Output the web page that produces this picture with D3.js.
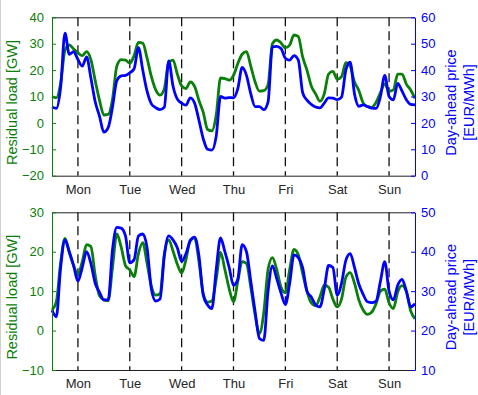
<!DOCTYPE html>
<html>
<head>
<meta charset="utf-8">
<script src="https://cdn.jsdelivr.net/npm/d3@7"></script>
<style>
body { margin: 0; background: #fff; }
svg { display: block; font-family: "Liberation Sans", Arial, sans-serif; }
</style>
</head>
<body>
<div id="chart"></div>
<script>
// hour of the week, every 2 hours, Mon 00:00 = 0
const hours = d3.range(0, 169, 2);
const dayNames = ['Mon', 'Tue', 'Wed', 'Thu', 'Fri', 'Sat', 'Sun'];
const dayHours = [12, 36, 60, 84, 108, 132, 156];

// upper panel
const topLoad = [10, 9.5, 15, 27.5, 29.5, 28, 26.5, 25.5, 27, 24, 16, 8.5, 3, 3.2, 9, 21.5, 24, 23.8, 22.6, 25.5,
  30.5, 30.2, 24.5, 17.5, 12.5, 10.5, 13, 23, 23.8, 18.5, 14, 13, 15.5, 13.8, 8.5, 4, -2.5, -3, 3, 17,
  16.8, 16.2, 18, 22.5, 26, 27, 21.5, 15.5, 12, 12.2, 14.5, 30, 31.4, 30.3, 28.4, 29.5, 33.3, 32.7, 25, 20,
  14, 11, 8.2, 11, 18.5, 19.5, 16.5, 17.5, 22.8, 21.5, 15.5, 12.3, 7.6, 6.2, 5.9, 7.8, 11.5, 14.8, 12, 12.5,
  18.5, 18.5, 14.7, 12.5, 9.3];
const topPrice = [26, 25.5, 33.5, 54, 46, 47, 44, 41.5, 45, 37, 28, 22.5, 16.5, 18.2, 26, 36, 37.8, 38, 39, 40.5,
  48.5, 40, 32, 27.2, 25.8, 25, 26, 43.5, 34, 29, 27.5, 26.7, 29.5, 27.5, 21, 14, 10, 9.7, 15, 30,
  29.4, 29.6, 29.5, 33, 41, 38, 31, 26.2, 26.2, 25, 28, 48.8, 49, 48.2, 44.5, 43.8, 45.5, 43.8, 31.5, 28.6,
  27, 26, 25.7, 27.5, 29.5, 29.4, 28.8, 29.8, 40, 43, 31, 26.3, 26.8, 26.2, 25.6, 25.5, 30, 38, 30, 28.7,
  35, 32, 28.8, 27, 26.8];

// lower panel
const bottomLoad = [5.2, 7.3, 17.3, 23.4, 19.8, 16.5, 14.2, 17.5, 21.8, 21.3, 14, 8.8, 7.8, 7.6, 16, 24.5, 21.2, 16.5, 15.4, 13.7,
  19.5, 22.3, 17, 11.2, 9, 9.4, 19.5, 23, 20.2, 16.8, 14.6, 18, 23, 23.5, 17.5, 9.3, 7.2, 7.5, 13, 19.8,
  15.5, 10.6, 7.3, 12.5, 17.5, 17, 11, 4, -0.8, 4.5, 15.5, 18.5, 15.5, 11, 9.6, 15.5, 20.6, 19.2, 14.5, 10,
  7, 6.3, 8.5, 11.5, 11, 8, 6, 8, 13.5, 14.7, 12, 7.8, 5.2, 4.1, 4.7, 6.8, 10, 10.5, 7, 5.6,
  9.8, 11.4, 9.9, 5, 3];
const bottomPrice = [25.2, 23.5, 36, 43, 40, 36.5, 32.5, 36, 40, 37, 32, 29.7, 27.8, 27.8, 40.5, 46.2, 46, 44, 37.2, 38,
  44, 44.5, 41, 30.5, 27.5, 28, 39, 44, 43, 41, 37.5, 39.5, 42.8, 43.7, 39, 29, 26.5, 25.6, 35.5, 43.5,
  40, 36, 31.5, 33, 41.8, 40, 32.5, 24.8, 18, 17.5, 30, 36.4, 33.2, 29.5, 26.6, 32, 39.2, 38.5, 36, 30,
  28.5, 26.5, 26, 30.5, 36.5, 36, 29, 32, 37.8, 39.5, 36, 31.8, 29.2, 27.3, 27.1, 27.5, 32.5, 37.5, 30, 27.8,
  31.5, 33, 30, 26, 26.8];

const loadTicksTop = [-20, -10, 0, 10, 20, 30, 40];
const priceTicksTop = [0, 10, 20, 30, 40, 50, 60];
const loadTicksBottom = [-10, 0, 10, 20, 30];
const priceTicksBottom = [10, 20, 30, 40, 50];

const width = 478;
const height = 395;
const green = '#0a800a';
const blue = '#0000ff';
const left = 52;
const right = 415;

const svg = d3.select('#chart')
  .append('svg')
  .attr('width', width)
  .attr('height', height);

svg.append('rect').attr('width', width).attr('height', height).attr('fill', '#fff');
svg.append('line')
  .attr('x1', 0.5).attr('x2', 0.5).attr('y1', 0).attr('y2', height)
  .attr('stroke', '#d0d0d0');

function drawPanel(top, bottom, load, price, loadTicks, priceTicks) {
  const x = d3.scaleLinear().domain([0, 168]).range([left, right]);
  const yLoad = d3.scaleLinear()
    .domain(d3.extent(loadTicks))
    .range([bottom, top]);
  const yPrice = d3.scaleLinear()
    .domain(d3.extent(priceTicks))
    .range([bottom, top]);

  const g = svg.append('g');

  // day separators
  g.selectAll('.day')
    .data(dayHours)
    .enter()
    .append('line')
    .attr('x1', d => x(d)).attr('x2', d => x(d))
    .attr('y1', top).attr('y2', bottom)
    .attr('stroke', '#111')
    .attr('stroke-width', 1.3)
    .attr('stroke-dasharray', '9,5');

  const loadLine = d3.line()
    .x((d, i) => x(hours[i]))
    .y(d => yLoad(d))
    .curve(d3.curveMonotoneX);
  const priceLine = d3.line()
    .x((d, i) => x(hours[i]))
    .y(d => yPrice(d))
    .curve(d3.curveMonotoneX);

  g.append('path')
    .datum(load)
    .attr('d', loadLine)
    .attr('fill', 'none')
    .attr('stroke', green)
    .attr('stroke-width', 2.8)
    .attr('stroke-linejoin', 'round');

  g.append('path')
    .datum(price)
    .attr('d', priceLine)
    .attr('fill', 'none')
    .attr('stroke', blue)
    .attr('stroke-width', 2.8)
    .attr('stroke-linejoin', 'round');

  // top border
  g.append('line')
    .attr('x1', left).attr('x2', right)
    .attr('y1', top + 0.5).attr('y2', top + 0.5)
    .attr('stroke', '#222');

  const xAxis = d3.axisBottom(x)
    .tickValues(dayHours)
    .tickFormat((d, i) => dayNames[i])
    .tickSize(0)
    .tickPadding(9);
  const xg = g.append('g')
    .attr('transform', `translate(0, ${bottom})`)
    .call(xAxis);
  xg.select('.domain').attr('stroke', '#222');
  xg.selectAll('text').attr('fill', '#262626').style('font-size', '13px');

  const leftAxis = d3.axisLeft(yLoad)
    .tickValues(loadTicks)
    .tickSizeInner(-4)
    .tickSizeOuter(0)
    .tickPadding(8);
  const lg = g.append('g')
    .attr('transform', `translate(${left}, 0)`)
    .call(leftAxis);
  lg.select('.domain').attr('stroke', green);
  lg.selectAll('line').attr('stroke', green);
  lg.selectAll('text').attr('fill', green).style('font-size', '13px');

  const rightAxis = d3.axisRight(yPrice)
    .tickValues(priceTicks)
    .tickSizeInner(-4)
    .tickSizeOuter(0)
    .tickPadding(6);
  const rg = g.append('g')
    .attr('transform', `translate(${right}, 0)`)
    .call(rightAxis);
  rg.select('.domain').attr('stroke', blue);
  rg.selectAll('line').attr('stroke', blue);
  rg.selectAll('text').attr('fill', blue).style('font-size', '13px');

  const mid = (top + bottom) / 2 + 6;

  g.append('text')
    .attr('transform', `translate(17, ${mid}) rotate(-90)`)
    .attr('text-anchor', 'middle')
    .attr('fill', green)
    .style('font-size', '14.5px')
    .text('Residual load [GW]');

  g.append('text')
    .attr('transform', `translate(455.5, ${mid}) rotate(-90)`)
    .attr('text-anchor', 'middle')
    .attr('fill', blue)
    .style('font-size', '14.5px')
    .text('Day-ahead price');

  g.append('text')
    .attr('transform', `translate(474, ${mid}) rotate(-90)`)
    .attr('text-anchor', 'middle')
    .attr('fill', blue)
    .style('font-size', '14.5px')
    .text('[EUR/MWh]');
}

drawPanel(17.3, 175.7, topLoad, topPrice, loadTicksTop, priceTicksTop);
drawPanel(212.3, 370, bottomLoad, bottomPrice, loadTicksBottom, priceTicksBottom);
</script>
</body>
</html>
